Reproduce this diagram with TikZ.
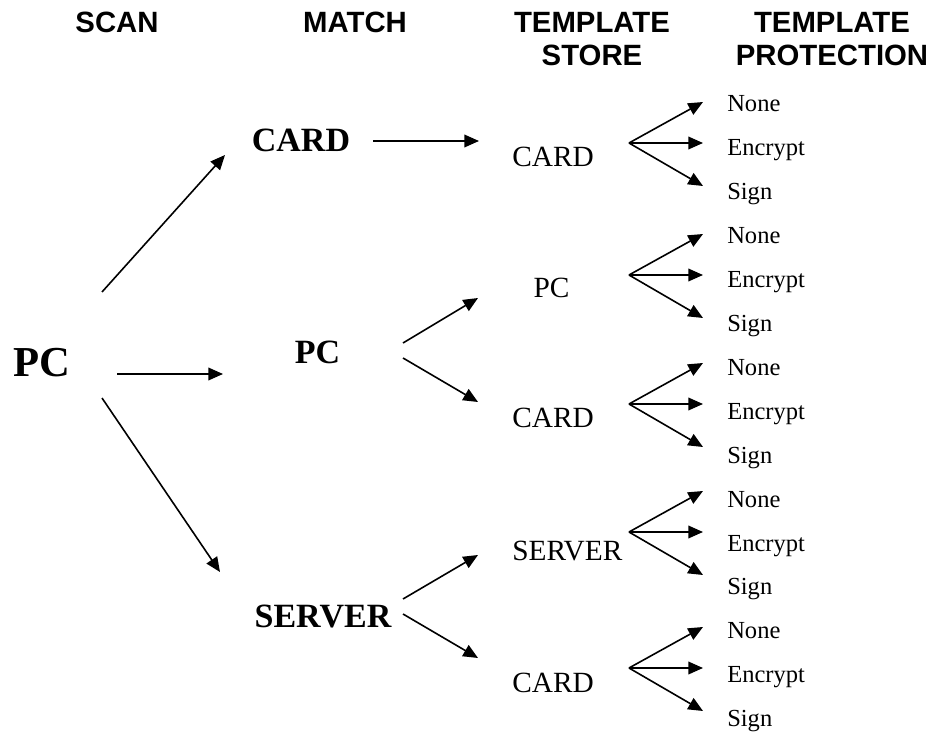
\documentclass[tikz,border=0pt]{standalone}
\usepackage{fontspec}
\setmainfont{Liberation Serif}
\setsansfont{Liberation Sans}
\usetikzlibrary{arrows.meta}
\tikzset{
	head/.style={font=\sffamily\bfseries\fontsize{22}{24.75}\selectfont, align=center, anchor=north, inner sep=0pt},
	scan/.style={font=\bfseries\fontsize{32}{36}\selectfont, inner sep=0pt},
	matchnode/.style={font=\bfseries\fontsize{25.5}{30}\selectfont, inner sep=0pt},
	storenode/.style={font=\fontsize{22}{26}\selectfont, inner sep=0pt},
	protnode/.style={font=\fontsize{18.4}{22}\selectfont, inner sep=0pt, anchor=base west},
	arr/.style={-{Triangle[length=11pt,width=9.5pt]}, line width=1.2pt}
}
\begin{document}
\begin{tikzpicture}[x=0.75pt,y=-0.75pt]
	\useasboundingbox (0,0) rectangle (932,734);
	
	\node[head] (hscan) at (117,12) {SCAN};
	\node[head] (hmatch) at (355,12) {MATCH};
	\node[head] (hstore) at (592,12) {TEMPLATE\\STORE};
	\node[head] (hprot) at (832,12) {TEMPLATE\\PROTECTION};
	
	\node[scan] (pc) at (41.5,362.5) {PC};
	\node[matchnode] (mcard) at (301,140) {CARD};
	\node[matchnode] (mpc) at (317.5,352) {PC};
	\node[matchnode] (mserver) at (323,616) {SERVER};
	
	\node[storenode, anchor=west] (scard1) at (512,157) {CARD};
	\node[storenode] (spc) at (551.5,288) {PC};
	\node[storenode, anchor=west] (scard2) at (512,418) {CARD};
	\node[storenode, anchor=west] (sserver) at (512,551) {SERVER};
	\node[storenode, anchor=west] (scard3) at (512,683) {CARD};
	
	\foreach \n/\xa/\ya/\xb/\yb in {1/102/292/225/155, 2/117/374/223/374, 3/102/398/220/572, 4/373/141/479/141, 5/403/343/478/298, 6/403/358/478/402, 7/403/599/478/555, 8/403/614/478/658}{
		\coordinate (s\n) at (\xa,\ya);
		\coordinate (e\n) at (\xb,\yb);
		\draw[arr] (s\n) -- (e\n);
	}
	
	\foreach \g/\v in {1/143, 2/275, 3/404, 4/532, 5/668}{
		\coordinate (v\g) at (629,\v);
		\coordinate (t\g a) at (703,{\v-41});
		\coordinate (t\g b) at (703,\v);
		\coordinate (t\g c) at (703,{\v+43});
		\draw[arr] (v\g) -- (t\g a);
		\draw[arr] (v\g) -- (t\g b);
		\draw[arr] (v\g) -- (t\g c);
	}
	
	\foreach \g in {0,...,4}{
		\node[protnode] (none\g) at (727,{112+131.7*\g}) {None};
		\node[protnode] (enc\g) at (727,{155.9+131.7*\g}) {Encrypt};
		\node[protnode] (sign\g) at (727,{199.8+131.7*\g}) {Sign};
	}
\end{tikzpicture}
\end{document}
